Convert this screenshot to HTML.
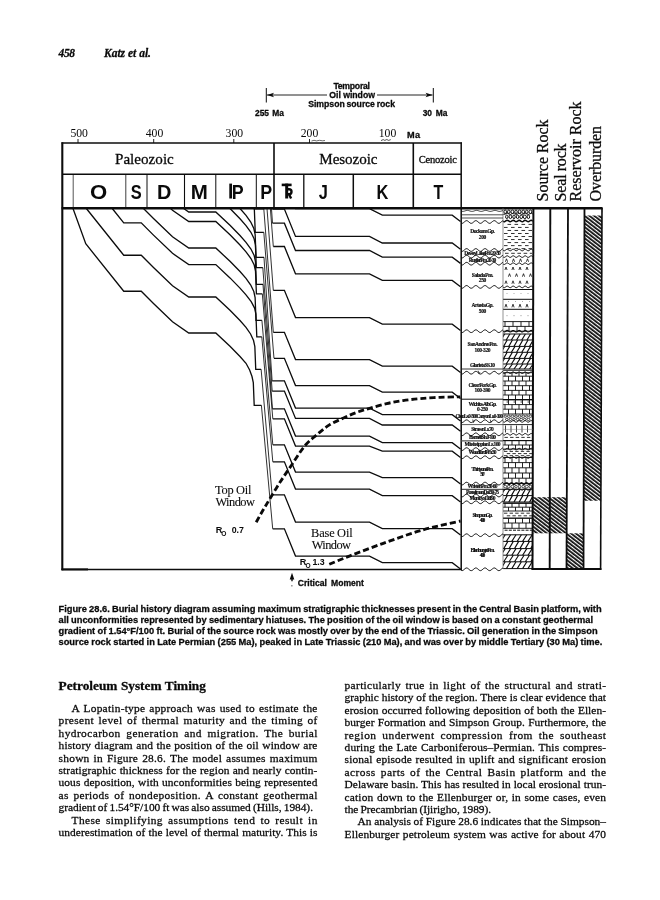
<!DOCTYPE html>
<html lang="en"><head><meta charset="utf-8"><title>Figure 28.6 Burial history diagram</title>
<style>
html,body{margin:0;padding:0;background:#fff;}
body{width:660px;height:900px;position:relative;overflow:hidden;font-family:"Liberation Serif",serif;color:#000;}
svg{position:absolute;left:0;top:0;display:block;will-change:transform;}
svg text{font-family:"Liberation Serif",serif;fill:#0a0a0a;white-space:pre;stroke:#0a0a0a;stroke-width:0.28px;stroke-linejoin:round;}
svg text.s{font-family:"Liberation Sans",sans-serif;}
.ln path,.ln line,.ln polyline,.ln ellipse{fill:none;stroke:#0c0c0c;stroke-width:1.32;}
</style></head>
<body>
<svg width="660" height="900" viewBox="0 0 660 900">
<defs>
<pattern id="hat" width="2.95" height="10" patternUnits="userSpaceOnUse" patternTransform="rotate(-52.3)">
<rect x="0" y="0" width="1.75" height="10" fill="#0a0a0a"/></pattern>
<clipPath id="cpB"><rect x="62" y="207" width="399.2" height="363"/></clipPath>
<clipPath id="cpL"><rect x="503.2" y="208" width="29.6" height="362"/></clipPath>
</defs>
<g class="ln">
<line x1="62.3" y1="142.3" x2="62.3" y2="570.3" style="stroke-width:2.1"/>
<line x1="61.6" y1="143" x2="462" y2="143" style="stroke-width:1.4"/>
<line x1="63" y1="174.3" x2="461" y2="174.3" style="stroke-width:1.4"/>
<line x1="61.6" y1="208.3" x2="602.6" y2="208.3" style="stroke-width:2.4"/>
<line x1="61.6" y1="569.5" x2="461.5" y2="569.5" style="stroke-width:1.35"/>
<line x1="61.6" y1="569.4" x2="88" y2="569.4" style="stroke-width:2"/>
<line x1="461.2" y1="142.5" x2="461.2" y2="570" style="stroke-width:1.5"/>
<line x1="274" y1="143" x2="274" y2="208" style="stroke-width:1.6"/>
<line x1="413.3" y1="143" x2="413.3" y2="208" style="stroke-width:1.6"/>
<line x1="73.2" y1="174.3" x2="73.2" y2="208" style="stroke-width:0.7"/>
<line x1="125.8" y1="174.3" x2="125.8" y2="208" style="stroke-width:0.8"/>
<line x1="147" y1="174.3" x2="147" y2="208" style="stroke-width:1.0"/>
<line x1="184.5" y1="174.3" x2="184.5" y2="208" style="stroke-width:1.1"/>
<line x1="215.8" y1="174.3" x2="215.8" y2="208" style="stroke-width:1.0"/>
<line x1="256.3" y1="174.3" x2="256.3" y2="208" style="stroke-width:1.0"/>
<line x1="303.8" y1="174.3" x2="303.8" y2="208" style="stroke-width:1.3"/>
<line x1="353.3" y1="174.3" x2="353.3" y2="208" style="stroke-width:1.5"/>
<line x1="78" y1="139" x2="78" y2="143" style="stroke-width:0.9"/>
<line x1="153.7" y1="139" x2="153.7" y2="143" style="stroke-width:0.9"/>
<line x1="233.8" y1="139" x2="233.8" y2="143" style="stroke-width:0.9"/>
<line x1="309.5" y1="139" x2="309.5" y2="143" style="stroke-width:0.9"/>
<path d="M381 140.6 l2.2 -1 l1.6 .8 l2 -.9 l1.8 .9 l2.2 -.8" style="stroke-width:0.7"/>
<path d="M311.5 141 l2.5 -.7 l2.5 .6 l3 -.6 l3 .5 l2.5 -.3" style="stroke-width:0.6"/>
</g>
<rect x="229.3" y="183.6" width="2.7" height="14.9" fill="#0a0a0a"/>
<rect x="281.7" y="183.6" width="9.9" height="2.6" fill="#0a0a0a"/>
<rect x="285.2" y="183.6" width="3.0" height="14.9" fill="#0a0a0a"/>
<path d="M287.5 189.2 h1.5 a2.5 2.5 0 0 1 0 5 h-1.5 M289 194.2 l2.1 4.3" fill="none" stroke="#0a0a0a" stroke-width="2.4"/>
<g class="ln">
<line x1="266.3" y1="88" x2="266.3" y2="102.5" style="stroke-width:1"/>
<line x1="433.3" y1="88" x2="433.3" y2="102.5" style="stroke-width:1"/>
<line x1="267" y1="95" x2="327" y2="95" style="stroke-width:0.9"/>
<line x1="377" y1="95" x2="432.5" y2="95" style="stroke-width:0.9"/>
</g>
<path d="M267 95 l7 -2.2 l-1.6 2.2 l1.6 2.2z" fill="#0a0a0a"/>
<path d="M432.6 95 l-7 -2.2 l1.6 2.2 l-1.6 2.2z" fill="#0a0a0a"/>
<g class="ln" clip-path="url(#cpB)">
<path d="M73.00 208.50 L85.75 243.75 L123.75 291.25 L141.25 291.25 L153.75 303.75 L172.50 321.75 L188.75 333.00 L215.80 333.00 L230.00 346.30 L240.00 356.50 L246.00 363.30 L249.64 370.00 L252.00 376.50 L253.30 382.50 L254.20 405.30 L261.40 405.30 M272.70 528.80 L284.40 528.80 L295.50 556.10 L369.50 556.10 L382.30 562.70 L452.20 562.70 L460.50 569.00"/>
<path d="M261.40 405.30 L272.70 528.80" style="stroke-width:0.85"/>
<path d="M86.35 208.50 L123.75 255.25 L141.25 255.25 L153.75 267.75 L172.50 285.75 L188.75 297.00 L215.80 297.00 L230.00 310.30 L240.00 320.50 L246.00 327.30 L250.57 334.00 L253.54 340.50 L254.84 346.50 L255.74 369.30 L261.11 369.30 M272.10 494.80 L284.40 494.80 L295.50 522.10 L369.50 522.10 L382.30 528.70 L452.20 528.70 L460.50 535.00"/>
<path d="M261.11 369.30 L272.10 494.80" style="stroke-width:0.85"/>
<path d="M112.27 208.50 L123.75 222.85 L141.25 222.85 L153.75 235.35 L172.50 253.35 L188.75 264.60 L215.80 264.60 L230.00 277.90 L240.00 288.10 L246.00 294.90 L251.20 301.60 L254.60 308.10 L255.90 314.10 L256.80 336.90 L261.80 336.90 M272.80 461.80 L284.40 461.80 L295.50 489.10 L369.50 489.10 L382.30 495.70 L452.20 495.70 L460.50 502.00"/>
<path d="M261.80 336.90 L272.80 461.80" style="stroke-width:0.85"/>
<path d="M143.50 208.50 L153.75 218.75 L172.50 236.75 L188.75 248.00 L215.80 248.00 L230.00 261.30 L240.00 271.50 L246.00 278.30 L250.73 285.00 L253.81 291.50 L255.11 297.50 L256.01 320.30 L261.90 320.30 M272.80 444.80 L284.40 444.80 L295.50 472.10 L369.50 472.10 L382.30 477.70 L452.20 477.70 L460.50 484.00"/>
<path d="M261.90 320.30 L272.80 444.80" style="stroke-width:0.85"/>
<path d="M170.68 208.50 L172.50 210.25 L188.75 221.50 L215.80 221.50 L230.00 234.80 L240.00 245.00 L246.00 251.80 L250.96 258.50 L254.20 265.00 L255.50 271.00 L256.40 293.80 L262.31 293.80 M272.80 418.80 L284.40 418.80 L295.50 446.10 L369.50 446.10 L382.30 451.20 L452.20 451.20 L460.50 457.50"/>
<path d="M262.31 293.80 L272.80 418.80" style="stroke-width:0.85"/>
<path d="M183.69 208.50 L188.75 212.00 L215.80 212.00 L230.00 225.30 L240.00 235.50 L246.00 242.30 L250.94 249.00 L254.17 255.50 L255.47 261.50 L256.37 284.30 L262.98 284.30 M272.48 408.80 L284.40 408.80 L295.50 436.10 L369.50 436.10 L382.30 442.70 L452.20 442.70 L460.50 449.00"/>
<path d="M262.98 284.30 L272.48 408.80" style="stroke-width:0.85"/>
<path d="M229.89 208.50 L230.00 208.60 L240.00 218.80 L246.00 225.60 L250.91 232.30 L254.11 238.80 L255.41 244.80 L256.31 267.60 L262.80 267.60 M272.19 391.10 L284.40 391.10 L295.50 418.40 L369.50 418.40 L382.30 425.00 L452.20 425.00 L460.50 431.30"/>
<path d="M262.80 267.60 L272.19 391.10" style="stroke-width:0.85"/>
<path d="M240.00 208.50 L246.00 215.30 L250.75 222.00 L253.85 228.50 L255.15 234.50 L256.05 257.30 L263.97 257.30 M272.12 380.80 L284.40 380.80 L295.50 408.10 L369.50 408.10 L382.30 414.70 L452.20 414.70 L460.50 421.00"/>
<path d="M263.97 257.30 L272.12 380.80" style="stroke-width:0.85"/>
<path d="M254.13 208.50 L254.35 209.50 L255.25 232.30 L263.80 232.30 M273.98 358.30 L284.40 358.30 L295.50 385.60 L369.50 385.60 L382.30 392.20 L452.20 392.20 L460.50 398.50"/>
<path d="M263.80 232.30 L273.98 358.30" style="stroke-width:0.85"/>
<path d="M254.49 208.50 L254.50 208.80 L263.80 208.80 M273.33 332.30 L284.40 332.30 L295.50 359.60 L369.50 359.60 L382.30 366.20 L452.20 366.20 L460.50 372.50"/>
<path d="M263.80 208.80 L273.33 332.30" style="stroke-width:0.85"/>
<path d="M267.01 208.50 M273.30 290.30 L284.40 290.30 L295.50 317.60 L369.50 317.60 L382.30 324.20 L452.20 324.20 L460.50 330.50"/>
<path d="M267.01 208.50 L273.30 290.30" style="stroke-width:0.85"/>
<path d="M270.38 208.50 M273.30 246.50 L284.40 246.50 L295.50 273.80 L369.50 273.80 L382.30 280.40 L452.20 280.40 L460.50 286.70"/>
<path d="M270.38 208.50 L273.30 246.50" style="stroke-width:0.85"/>
<path d="M271.47 208.50 M272.51 223.20 L284.40 223.20 L295.50 250.50 L369.50 250.50 L382.30 257.10 L452.20 257.10 L460.50 263.40"/>
<path d="M271.47 208.50 L272.51 223.20" style="stroke-width:0.85"/>
<path d="M272.46 208.50 M272.50 209.10 L284.40 209.10 L295.50 236.40 L369.50 236.40 L382.30 243.00 L452.20 243.00 L460.50 249.30"/>
<path d="M272.46 208.50 L272.50 209.10" style="stroke-width:0.85"/>
<path d="M295.46 208.50 L295.50 208.60 L369.50 208.60 L382.30 215.20 L452.20 215.20 L460.50 221.50"/>
</g>
<path d="M256.20 522.20 C257.25 520.33 260.28 514.80 262.50 511.00 C264.72 507.20 266.58 504.18 269.50 499.40 C272.42 494.62 276.33 488.00 280.00 482.30 C283.67 476.60 287.33 471.32 291.50 465.20 C295.67 459.08 300.52 450.90 305.00 445.60 C309.48 440.30 314.33 436.85 318.40 433.40 C322.47 429.95 325.30 427.43 329.40 424.90 C333.50 422.37 338.57 420.25 343.00 418.20 C347.43 416.15 351.57 414.25 356.00 412.60 C360.43 410.95 364.48 409.80 369.60 408.30 C374.72 406.80 381.13 404.88 386.70 403.60 C392.27 402.32 397.45 401.43 403.00 400.60 C408.55 399.77 413.83 399.15 420.00 398.60 C426.17 398.05 433.28 397.60 440.00 397.30 C446.72 397.00 456.92 396.88 460.30 396.80" fill="none" stroke="#0a0a0a" stroke-width="2.85" stroke-dasharray="6.1 3"/>
<path d="M329.30 564.30 C332.75 562.88 341.00 559.30 350.00 555.80 C359.00 552.30 372.18 547.32 383.30 543.30 C394.42 539.28 407.25 534.65 416.70 531.70 C426.15 528.75 432.70 527.38 440.00 525.60 C447.30 523.82 457.08 521.77 460.50 521.00" fill="none" stroke="#0a0a0a" stroke-width="2.85" stroke-dasharray="6.1 3"/>
<path d="M292 572.7 l2.3 6.7 h-1.6 v1.8 h-1.4 v-1.8 h-1.6z" fill="#0a0a0a"/>
<rect x="291.4" y="585.2" width="1" height="1.2" fill="#333"/>
<rect x="532.6" y="497.2" width="34.2" height="36.1" fill="url(#hat)"/>
<rect x="566.5" y="533.3" width="17.2" height="36" fill="url(#hat)"/>
<path d="M584.5 215.6 H602 L601 500.7 H583.7z" fill="url(#hat)"/>
<g class="ln">
<line x1="533.4" y1="208" x2="532.5" y2="570" style="stroke-width:2.0"/>
<line x1="550.3" y1="208" x2="549.7" y2="570" style="stroke-width:1.9"/>
<line x1="568.0" y1="208" x2="566.5" y2="570" style="stroke-width:1.8"/>
<line x1="584.5" y1="208" x2="583.5" y2="570" style="stroke-width:1.8"/>
<line x1="602.0" y1="208" x2="600.6" y2="570" style="stroke-width:1.6"/>
<line x1="531.7" y1="569" x2="601.4" y2="569" style="stroke-width:2.1"/>
</g>
<g class="ln">
<line x1="503" y1="208" x2="503" y2="569" style="stroke-width:0.7;stroke:#666"/>
<path d="M461.2 223.14 L462.0 223.35 L462.8 223.17 L463.6 222.64 L464.4 221.93 L465.2 221.23 L466.0 220.77 L466.8 220.66 L467.6 220.95 L468.4 221.55 L469.2 222.28 L470.0 222.93 L470.8 223.30 L471.6 223.30 L472.5 222.91 L473.3 222.25 L474.1 221.53 L474.9 220.94 L475.7 220.66 L476.5 220.78 L477.3 221.25 L478.1 221.95 L478.9 222.66 L479.7 223.18 L480.5 223.35 L481.3 223.12 L482.1 222.57 L482.9 221.85 L483.7 221.17 L484.5 220.74 L485.3 220.67 L486.1 221.00 L486.9 221.62 L487.7 222.36 L488.5 222.98 L489.3 223.32 L490.1 223.27 L490.9 222.85 L491.7 222.17 L492.6 221.45 L493.4 220.89 L494.2 220.65 L495.0 220.81 L495.8 221.32 L496.6 222.03 L497.4 222.73 L498.2 223.22 L499.0 223.34 L499.8 223.08 L500.6 222.49 L501.4 221.76 L502.2 221.11 L503.0 220.71" style="stroke-width:1.0"/>
<path d="M461.2 251.14 L462.0 251.35 L462.8 251.17 L463.6 250.64 L464.4 249.93 L465.2 249.23 L466.0 248.77 L466.8 248.66 L467.6 248.95 L468.4 249.55 L469.2 250.28 L470.0 250.93 L470.8 251.30 L471.6 251.30 L472.5 250.91 L473.3 250.25 L474.1 249.53 L474.9 248.94 L475.7 248.66 L476.5 248.78 L477.3 249.25 L478.1 249.95 L478.9 250.66 L479.7 251.18 L480.5 251.35 L481.3 251.12 L482.1 250.57 L482.9 249.85 L483.7 249.17 L484.5 248.74 L485.3 248.67 L486.1 249.00 L486.9 249.62 L487.7 250.36 L488.5 250.98 L489.3 251.32 L490.1 251.27 L490.9 250.85 L491.7 250.17 L492.6 249.45 L493.4 248.89 L494.2 248.65 L495.0 248.81 L495.8 249.32 L496.6 250.03 L497.4 250.73 L498.2 251.22 L499.0 251.34 L499.8 251.08 L500.6 250.49 L501.4 249.76 L502.2 249.11 L503.0 248.71" style="stroke-width:1.0"/>
<path d="M461.2 257.74 L462.0 257.95 L462.8 257.77 L463.6 257.24 L464.4 256.53 L465.2 255.83 L466.0 255.37 L466.8 255.26 L467.6 255.55 L468.4 256.15 L469.2 256.88 L470.0 257.53 L470.8 257.90 L471.6 257.90 L472.5 257.51 L473.3 256.85 L474.1 256.13 L474.9 255.54 L475.7 255.26 L476.5 255.38 L477.3 255.85 L478.1 256.55 L478.9 257.26 L479.7 257.78 L480.5 257.95 L481.3 257.72 L482.1 257.17 L482.9 256.45 L483.7 255.77 L484.5 255.34 L485.3 255.27 L486.1 255.60 L486.9 256.22 L487.7 256.96 L488.5 257.58 L489.3 257.92 L490.1 257.87 L490.9 257.45 L491.7 256.77 L492.6 256.05 L493.4 255.49 L494.2 255.25 L495.0 255.41 L495.8 255.92 L496.6 256.63 L497.4 257.33 L498.2 257.82 L499.0 257.94 L499.8 257.68 L500.6 257.09 L501.4 256.36 L502.2 255.71 L503.0 255.31" style="stroke-width:1.0"/>
<path d="M461.2 264.84 L462.0 265.05 L462.8 264.87 L463.6 264.34 L464.4 263.63 L465.2 262.93 L466.0 262.47 L466.8 262.36 L467.6 262.65 L468.4 263.25 L469.2 263.98 L470.0 264.63 L470.8 265.00 L471.6 265.00 L472.5 264.61 L473.3 263.95 L474.1 263.23 L474.9 262.64 L475.7 262.36 L476.5 262.48 L477.3 262.95 L478.1 263.65 L478.9 264.36 L479.7 264.88 L480.5 265.05 L481.3 264.82 L482.1 264.27 L482.9 263.55 L483.7 262.87 L484.5 262.44 L485.3 262.37 L486.1 262.70 L486.9 263.32 L487.7 264.06 L488.5 264.68 L489.3 265.02 L490.1 264.97 L490.9 264.55 L491.7 263.87 L492.6 263.15 L493.4 262.59 L494.2 262.35 L495.0 262.51 L495.8 263.02 L496.6 263.73 L497.4 264.43 L498.2 264.92 L499.0 265.04 L499.8 264.78 L500.6 264.19 L501.4 263.46 L502.2 262.81 L503.0 262.41" style="stroke-width:1.0"/>
<path d="M461.2 288.04 L462.0 288.25 L462.8 288.07 L463.6 287.54 L464.4 286.83 L465.2 286.13 L466.0 285.67 L466.8 285.56 L467.6 285.85 L468.4 286.45 L469.2 287.18 L470.0 287.83 L470.8 288.20 L471.6 288.20 L472.5 287.81 L473.3 287.15 L474.1 286.43 L474.9 285.84 L475.7 285.56 L476.5 285.68 L477.3 286.15 L478.1 286.85 L478.9 287.56 L479.7 288.08 L480.5 288.25 L481.3 288.02 L482.1 287.47 L482.9 286.75 L483.7 286.07 L484.5 285.64 L485.3 285.57 L486.1 285.90 L486.9 286.52 L487.7 287.26 L488.5 287.88 L489.3 288.22 L490.1 288.17 L490.9 287.75 L491.7 287.07 L492.6 286.35 L493.4 285.79 L494.2 285.55 L495.0 285.71 L495.8 286.22 L496.6 286.93 L497.4 287.63 L498.2 288.12 L499.0 288.24 L499.8 287.98 L500.6 287.39 L501.4 286.66 L502.2 286.01 L503.0 285.61" style="stroke-width:1.0"/>
<path d="M461.2 332.34 L462.0 332.55 L462.8 332.37 L463.6 331.84 L464.4 331.13 L465.2 330.43 L466.0 329.97 L466.8 329.86 L467.6 330.15 L468.4 330.75 L469.2 331.48 L470.0 332.13 L470.8 332.50 L471.6 332.50 L472.5 332.11 L473.3 331.45 L474.1 330.73 L474.9 330.14 L475.7 329.86 L476.5 329.98 L477.3 330.45 L478.1 331.15 L478.9 331.86 L479.7 332.38 L480.5 332.55 L481.3 332.32 L482.1 331.77 L482.9 331.05 L483.7 330.37 L484.5 329.94 L485.3 329.87 L486.1 330.20 L486.9 330.82 L487.7 331.56 L488.5 332.18 L489.3 332.52 L490.1 332.47 L490.9 332.05 L491.7 331.37 L492.6 330.65 L493.4 330.09 L494.2 329.85 L495.0 330.01 L495.8 330.52 L496.6 331.23 L497.4 331.93 L498.2 332.42 L499.0 332.54 L499.8 332.28 L500.6 331.69 L501.4 330.96 L502.2 330.31 L503.0 329.91" style="stroke-width:1.0"/>
<path d="M461.2 373.84 L462.0 374.05 L462.8 373.87 L463.6 373.34 L464.4 372.63 L465.2 371.93 L466.0 371.47 L466.8 371.36 L467.6 371.65 L468.4 372.25 L469.2 372.98 L470.0 373.63 L470.8 374.00 L471.6 374.00 L472.5 373.61 L473.3 372.95 L474.1 372.23 L474.9 371.64 L475.7 371.36 L476.5 371.48 L477.3 371.95 L478.1 372.65 L478.9 373.36 L479.7 373.88 L480.5 374.05 L481.3 373.82 L482.1 373.27 L482.9 372.55 L483.7 371.87 L484.5 371.44 L485.3 371.37 L486.1 371.70 L486.9 372.32 L487.7 373.06 L488.5 373.68 L489.3 374.02 L490.1 373.97 L490.9 373.55 L491.7 372.87 L492.6 372.15 L493.4 371.59 L494.2 371.35 L495.0 371.51 L495.8 372.02 L496.6 372.73 L497.4 373.43 L498.2 373.92 L499.0 374.04 L499.8 373.78 L500.6 373.19 L501.4 372.46 L502.2 371.81 L503.0 371.41" style="stroke-width:1.0"/>
<path d="M461.2 422.34 L462.0 422.55 L462.8 422.37 L463.6 421.84 L464.4 421.13 L465.2 420.43 L466.0 419.97 L466.8 419.86 L467.6 420.15 L468.4 420.75 L469.2 421.48 L470.0 422.13 L470.8 422.50 L471.6 422.50 L472.5 422.11 L473.3 421.45 L474.1 420.73 L474.9 420.14 L475.7 419.86 L476.5 419.98 L477.3 420.45 L478.1 421.15 L478.9 421.86 L479.7 422.38 L480.5 422.55 L481.3 422.32 L482.1 421.77 L482.9 421.05 L483.7 420.37 L484.5 419.94 L485.3 419.87 L486.1 420.20 L486.9 420.82 L487.7 421.56 L488.5 422.18 L489.3 422.52 L490.1 422.47 L490.9 422.05 L491.7 421.37 L492.6 420.65 L493.4 420.09 L494.2 419.85 L495.0 420.01 L495.8 420.52 L496.6 421.23 L497.4 421.93 L498.2 422.42 L499.0 422.54 L499.8 422.28 L500.6 421.69 L501.4 420.96 L502.2 420.31 L503.0 419.91" style="stroke-width:1.0"/>
<path d="M461.2 435.44 L462.0 435.65 L462.8 435.47 L463.6 434.94 L464.4 434.23 L465.2 433.53 L466.0 433.07 L466.8 432.96 L467.6 433.25 L468.4 433.85 L469.2 434.58 L470.0 435.23 L470.8 435.60 L471.6 435.60 L472.5 435.21 L473.3 434.55 L474.1 433.83 L474.9 433.24 L475.7 432.96 L476.5 433.08 L477.3 433.55 L478.1 434.25 L478.9 434.96 L479.7 435.48 L480.5 435.65 L481.3 435.42 L482.1 434.87 L482.9 434.15 L483.7 433.47 L484.5 433.04 L485.3 432.97 L486.1 433.30 L486.9 433.92 L487.7 434.66 L488.5 435.28 L489.3 435.62 L490.1 435.57 L490.9 435.15 L491.7 434.47 L492.6 433.75 L493.4 433.19 L494.2 432.95 L495.0 433.11 L495.8 433.62 L496.6 434.33 L497.4 435.03 L498.2 435.52 L499.0 435.64 L499.8 435.38 L500.6 434.79 L501.4 434.06 L502.2 433.41 L503.0 433.01" style="stroke-width:1.0"/>
<path d="M461.2 450.24 L462.0 450.45 L462.8 450.27 L463.6 449.74 L464.4 449.03 L465.2 448.33 L466.0 447.87 L466.8 447.76 L467.6 448.05 L468.4 448.65 L469.2 449.38 L470.0 450.03 L470.8 450.40 L471.6 450.40 L472.5 450.01 L473.3 449.35 L474.1 448.63 L474.9 448.04 L475.7 447.76 L476.5 447.88 L477.3 448.35 L478.1 449.05 L478.9 449.76 L479.7 450.28 L480.5 450.45 L481.3 450.22 L482.1 449.67 L482.9 448.95 L483.7 448.27 L484.5 447.84 L485.3 447.77 L486.1 448.10 L486.9 448.72 L487.7 449.46 L488.5 450.08 L489.3 450.42 L490.1 450.37 L490.9 449.95 L491.7 449.27 L492.6 448.55 L493.4 447.99 L494.2 447.75 L495.0 447.91 L495.8 448.42 L496.6 449.13 L497.4 449.83 L498.2 450.32 L499.0 450.44 L499.8 450.18 L500.6 449.59 L501.4 448.86 L502.2 448.21 L503.0 447.81" style="stroke-width:1.0"/>
<path d="M461.2 458.44 L462.0 458.65 L462.8 458.47 L463.6 457.94 L464.4 457.23 L465.2 456.53 L466.0 456.07 L466.8 455.96 L467.6 456.25 L468.4 456.85 L469.2 457.58 L470.0 458.23 L470.8 458.60 L471.6 458.60 L472.5 458.21 L473.3 457.55 L474.1 456.83 L474.9 456.24 L475.7 455.96 L476.5 456.08 L477.3 456.55 L478.1 457.25 L478.9 457.96 L479.7 458.48 L480.5 458.65 L481.3 458.42 L482.1 457.87 L482.9 457.15 L483.7 456.47 L484.5 456.04 L485.3 455.97 L486.1 456.30 L486.9 456.92 L487.7 457.66 L488.5 458.28 L489.3 458.62 L490.1 458.57 L490.9 458.15 L491.7 457.47 L492.6 456.75 L493.4 456.19 L494.2 455.95 L495.0 456.11 L495.8 456.62 L496.6 457.33 L497.4 458.03 L498.2 458.52 L499.0 458.64 L499.8 458.38 L500.6 457.79 L501.4 457.06 L502.2 456.41 L503.0 456.01" style="stroke-width:1.0"/>
<path d="M461.2 484.74 L462.0 484.95 L462.8 484.77 L463.6 484.24 L464.4 483.53 L465.2 482.83 L466.0 482.37 L466.8 482.26 L467.6 482.55 L468.4 483.15 L469.2 483.88 L470.0 484.53 L470.8 484.90 L471.6 484.90 L472.5 484.51 L473.3 483.85 L474.1 483.13 L474.9 482.54 L475.7 482.26 L476.5 482.38 L477.3 482.85 L478.1 483.55 L478.9 484.26 L479.7 484.78 L480.5 484.95 L481.3 484.72 L482.1 484.17 L482.9 483.45 L483.7 482.77 L484.5 482.34 L485.3 482.27 L486.1 482.60 L486.9 483.22 L487.7 483.96 L488.5 484.58 L489.3 484.92 L490.1 484.87 L490.9 484.45 L491.7 483.77 L492.6 483.05 L493.4 482.49 L494.2 482.25 L495.0 482.41 L495.8 482.92 L496.6 483.63 L497.4 484.33 L498.2 484.82 L499.0 484.94 L499.8 484.68 L500.6 484.09 L501.4 483.36 L502.2 482.71 L503.0 482.31" style="stroke-width:1.0"/>
<path d="M461.2 496.64 L462.0 496.85 L462.8 496.67 L463.6 496.14 L464.4 495.43 L465.2 494.73 L466.0 494.27 L466.8 494.16 L467.6 494.45 L468.4 495.05 L469.2 495.78 L470.0 496.43 L470.8 496.80 L471.6 496.80 L472.5 496.41 L473.3 495.75 L474.1 495.03 L474.9 494.44 L475.7 494.16 L476.5 494.28 L477.3 494.75 L478.1 495.45 L478.9 496.16 L479.7 496.68 L480.5 496.85 L481.3 496.62 L482.1 496.07 L482.9 495.35 L483.7 494.67 L484.5 494.24 L485.3 494.17 L486.1 494.50 L486.9 495.12 L487.7 495.86 L488.5 496.48 L489.3 496.82 L490.1 496.77 L490.9 496.35 L491.7 495.67 L492.6 494.95 L493.4 494.39 L494.2 494.15 L495.0 494.31 L495.8 494.82 L496.6 495.53 L497.4 496.23 L498.2 496.72 L499.0 496.84 L499.8 496.58 L500.6 495.99 L501.4 495.26 L502.2 494.61 L503.0 494.21" style="stroke-width:1.0"/>
<path d="M461.2 503.44 L462.0 503.65 L462.8 503.47 L463.6 502.94 L464.4 502.23 L465.2 501.53 L466.0 501.07 L466.8 500.96 L467.6 501.25 L468.4 501.85 L469.2 502.58 L470.0 503.23 L470.8 503.60 L471.6 503.60 L472.5 503.21 L473.3 502.55 L474.1 501.83 L474.9 501.24 L475.7 500.96 L476.5 501.08 L477.3 501.55 L478.1 502.25 L478.9 502.96 L479.7 503.48 L480.5 503.65 L481.3 503.42 L482.1 502.87 L482.9 502.15 L483.7 501.47 L484.5 501.04 L485.3 500.97 L486.1 501.30 L486.9 501.92 L487.7 502.66 L488.5 503.28 L489.3 503.62 L490.1 503.57 L490.9 503.15 L491.7 502.47 L492.6 501.75 L493.4 501.19 L494.2 500.95 L495.0 501.11 L495.8 501.62 L496.6 502.33 L497.4 503.03 L498.2 503.52 L499.0 503.64 L499.8 503.38 L500.6 502.79 L501.4 502.06 L502.2 501.41 L503.0 501.01" style="stroke-width:1.0"/>
<path d="M461.2 536.34 L462.0 536.55 L462.8 536.37 L463.6 535.84 L464.4 535.13 L465.2 534.43 L466.0 533.97 L466.8 533.86 L467.6 534.15 L468.4 534.75 L469.2 535.48 L470.0 536.13 L470.8 536.50 L471.6 536.50 L472.5 536.11 L473.3 535.45 L474.1 534.73 L474.9 534.14 L475.7 533.86 L476.5 533.98 L477.3 534.45 L478.1 535.15 L478.9 535.86 L479.7 536.38 L480.5 536.55 L481.3 536.32 L482.1 535.77 L482.9 535.05 L483.7 534.37 L484.5 533.94 L485.3 533.87 L486.1 534.20 L486.9 534.82 L487.7 535.56 L488.5 536.18 L489.3 536.52 L490.1 536.47 L490.9 536.05 L491.7 535.37 L492.6 534.65 L493.4 534.09 L494.2 533.85 L495.0 534.01 L495.8 534.52 L496.6 535.23 L497.4 535.93 L498.2 536.42 L499.0 536.54 L499.8 536.28 L500.6 535.69 L501.4 534.96 L502.2 534.31 L503.0 533.91" style="stroke-width:1.0"/>
<path d="M461.2 570.44 L462.0 570.65 L462.8 570.47 L463.6 569.94 L464.4 569.23 L465.2 568.53 L466.0 568.07 L466.8 567.96 L467.6 568.25 L468.4 568.85 L469.2 569.58 L470.0 570.23 L470.8 570.60 L471.6 570.60 L472.5 570.21 L473.3 569.55 L474.1 568.83 L474.9 568.24 L475.7 567.96 L476.5 568.08 L477.3 568.55 L478.1 569.25 L478.9 569.96 L479.7 570.48 L480.5 570.65 L481.3 570.42 L482.1 569.87 L482.9 569.15 L483.7 568.47 L484.5 568.04 L485.3 567.97 L486.1 568.30 L486.9 568.92 L487.7 569.66 L488.5 570.28 L489.3 570.62 L490.1 570.57 L490.9 570.15 L491.7 569.47 L492.6 568.75 L493.4 568.19 L494.2 567.95 L495.0 568.11 L495.8 568.62 L496.6 569.33 L497.4 570.03 L498.2 570.52 L499.0 570.64 L499.8 570.38 L500.6 569.79 L501.4 569.06 L502.2 568.41 L503.0 568.01" style="stroke-width:1.0"/>
<path d="M461.2 211.14 L462.0 211.33 L462.8 211.40 L463.6 211.32 L464.4 211.12 L465.2 210.85 L466.0 210.60 L466.8 210.43 L467.6 210.41 L468.4 210.53 L469.2 210.76 L470.0 211.03 L470.8 211.26 L471.6 211.39 L472.5 211.37 L473.3 211.22 L474.1 210.97 L474.9 210.70 L475.7 210.49 L476.5 210.40 L477.3 210.46 L478.1 210.64 L478.9 210.91 L479.7 211.17 L480.5 211.35 L481.3 211.40 L482.1 211.30 L482.9 211.09 L483.7 210.82 L484.5 210.57 L485.3 210.42 L486.1 210.41 L486.9 210.55 L487.7 210.78 L488.5 211.06 L489.3 211.28 L490.1 211.39 L490.9 211.36 L491.7 211.19 L492.6 210.94 L493.4 210.67 L494.2 210.47 L495.0 210.40 L495.8 210.47 L496.6 210.67 L497.4 210.94 L498.2 211.19 L499.0 211.36 L499.8 211.39 L500.6 211.28 L501.4 211.06 L502.2 210.79 L503.0 210.55" style="stroke-width:0.8"/>
<line x1="461.2" y1="214.8" x2="503.0" y2="214.8" style="stroke-width:0.8;stroke:#222"/>
<line x1="461.2" y1="218" x2="503.0" y2="218" style="stroke-width:0.8;stroke:#222"/>
<line x1="461.2" y1="369" x2="503.0" y2="369" style="stroke-width:0.9;stroke:#222"/>
<line x1="461.2" y1="399.2" x2="503.0" y2="399.2" style="stroke-width:1.0;stroke:#111"/>
<line x1="461.2" y1="424.6" x2="503.0" y2="424.6" style="stroke-width:0.8;stroke:#333"/>
<line x1="461.2" y1="440.8" x2="503.0" y2="440.8" style="stroke-width:1.2;stroke:#555"/>
<line x1="461.2" y1="489.3" x2="503.0" y2="489.3" style="stroke-width:0.9;stroke:#111"/>
<path d="M479 373.7 l-.8 -3 m.8 3 l1 -1.6" style="stroke-width:0.7"/>
<path d="M473.5 422.5 l-.8 -3 m.8 3 l1 -1.6" style="stroke-width:0.7"/>
<path d="M491 422.5 l-.8 -3 m.8 3 l1 -1.6" style="stroke-width:0.7"/>
</g>
<g class="ln" clip-path="url(#cpL)">
<ellipse cx="505.2" cy="211.80" rx="1.33" ry="1.80" style="stroke-width:1.0"/>
<ellipse cx="508.8" cy="211.80" rx="1.26" ry="1.80" style="stroke-width:1.0"/>
<ellipse cx="512.4" cy="211.80" rx="1.46" ry="1.80" style="stroke-width:1.0"/>
<ellipse cx="516.0" cy="211.80" rx="1.23" ry="1.80" style="stroke-width:1.0"/>
<ellipse cx="519.6" cy="211.80" rx="1.41" ry="1.80" style="stroke-width:1.0"/>
<ellipse cx="523.2" cy="211.80" rx="1.35" ry="1.80" style="stroke-width:1.0"/>
<ellipse cx="526.8" cy="211.80" rx="1.22" ry="1.80" style="stroke-width:1.0"/>
<ellipse cx="530.4" cy="211.80" rx="1.40" ry="1.80" style="stroke-width:1.0"/>
<ellipse cx="506.8" cy="216.80" rx="1.21" ry="1.80" style="stroke-width:1.0"/>
<ellipse cx="510.4" cy="216.80" rx="1.37" ry="1.80" style="stroke-width:1.0"/>
<ellipse cx="514.0" cy="216.80" rx="1.23" ry="1.80" style="stroke-width:1.0"/>
<ellipse cx="517.6" cy="216.80" rx="1.24" ry="1.80" style="stroke-width:1.0"/>
<ellipse cx="521.2" cy="216.80" rx="1.37" ry="1.80" style="stroke-width:1.0"/>
<ellipse cx="524.8" cy="216.80" rx="1.53" ry="1.80" style="stroke-width:1.0"/>
<ellipse cx="528.4" cy="216.80" rx="1.25" ry="1.80" style="stroke-width:1.0"/>
<path d="M503.0 214.08 L503.8 214.45 L504.6 214.45 L505.4 214.07 L506.2 213.58 L507.1 213.31 L507.9 213.43 L508.7 213.88 L509.5 214.33 L510.3 214.50 L511.1 214.26 L511.9 213.77 L512.7 213.38 L513.5 213.33 L514.4 213.68 L515.2 214.17 L516.0 214.48 L516.8 214.40 L517.6 213.97 L518.4 213.50 L519.2 213.30 L520.0 213.50 L520.8 213.98 L521.6 214.40 L522.5 214.48 L523.3 214.17 L524.1 213.67 L524.9 213.33 L525.7 213.38 L526.5 213.78 L527.3 214.26 L528.1 214.50 L528.9 214.33 L529.8 213.87 L530.6 213.43 L531.4 213.31 L532.2 213.59 L533.0 214.08" style="stroke-width:0.9"/>
<path d="M503.0 221.21 L503.8 221.64 L504.6 221.64 L505.4 221.20 L506.2 220.63 L507.1 220.31 L507.9 220.46 L508.7 220.97 L509.5 221.51 L510.3 221.70 L511.1 221.41 L511.9 220.85 L512.7 220.39 L513.5 220.34 L514.4 220.74 L515.2 221.32 L516.0 221.68 L516.8 221.58 L517.6 221.09 L518.4 220.54 L519.2 220.30 L520.0 220.54 L520.8 221.09 L521.6 221.58 L522.5 221.68 L523.3 221.31 L524.1 220.74 L524.9 220.34 L525.7 220.39 L526.5 220.85 L527.3 221.42 L528.1 221.70 L528.9 221.50 L529.8 220.97 L530.6 220.45 L531.4 220.31 L532.2 220.63 L533.0 221.21" style="stroke-width:1.5"/>
<path d="M507.5 224.40 h3.6 M514.5 224.40 h3.6 M521.5 224.40 h3.6 M528.5 224.40 h3.5" style="stroke-width:0.85"/>
<path d="M504.0 227.43 h3.6 M511.0 227.43 h3.6 M518.0 227.43 h3.6 M525.0 227.43 h3.6" style="stroke-width:0.85"/>
<path d="M507.5 230.46 h3.6 M514.5 230.46 h3.6 M521.5 230.46 h3.6 M528.5 230.46 h3.5" style="stroke-width:0.85"/>
<path d="M504.0 233.49 h3.6 M511.0 233.49 h3.6 M518.0 233.49 h3.6 M525.0 233.49 h3.6" style="stroke-width:0.85"/>
<path d="M507.5 236.52 h3.6 M514.5 236.52 h3.6 M521.5 236.52 h3.6 M528.5 236.52 h3.5" style="stroke-width:0.85"/>
<path d="M504.0 239.55 h3.6 M511.0 239.55 h3.6 M518.0 239.55 h3.6 M525.0 239.55 h3.6" style="stroke-width:0.85"/>
<path d="M507.5 242.58 h3.6 M514.5 242.58 h3.6 M521.5 242.58 h3.6 M528.5 242.58 h3.5" style="stroke-width:0.85"/>
<path d="M504.0 245.61 h3.6 M511.0 245.61 h3.6 M518.0 245.61 h3.6 M525.0 245.61 h3.6" style="stroke-width:0.85"/>
<path d="M507.5 248.64 h3.6 M514.5 248.64 h3.6 M521.5 248.64 h3.6 M528.5 248.64 h3.5" style="stroke-width:0.85"/>
<path d="M503.0 250.24 L503.8 250.73 L504.6 250.73 L505.4 250.23 L506.2 249.58 L507.1 249.21 L507.9 249.38 L508.7 249.97 L509.5 250.58 L510.3 250.80 L511.1 250.47 L511.9 249.83 L512.7 249.30 L513.5 249.25 L514.4 249.70 L515.2 250.36 L516.0 250.77 L516.8 250.66 L517.6 250.10 L518.4 249.47 L519.2 249.20 L520.0 249.47 L520.8 250.10 L521.6 250.66 L522.5 250.77 L523.3 250.36 L524.1 249.70 L524.9 249.24 L525.7 249.30 L526.5 249.83 L527.3 250.48 L528.1 250.80 L528.9 250.58 L529.8 249.96 L530.6 249.38 L531.4 249.21 L532.2 249.58 L533.0 250.24" style="stroke-width:1.0"/>
<path d="M505.0 253.30 h3.6 M511.2 253.30 h3.6 M517.4 253.30 h3.6 M523.6 253.30 h3.6 M529.8 253.30 h2.2" style="stroke-width:0.85"/>
<path d="M503.0 256.84 L503.8 257.33 L504.6 257.33 L505.4 256.83 L506.2 256.18 L507.1 255.81 L507.9 255.98 L508.7 256.57 L509.5 257.18 L510.3 257.40 L511.1 257.07 L511.9 256.43 L512.7 255.90 L513.5 255.85 L514.4 256.30 L515.2 256.96 L516.0 257.37 L516.8 257.26 L517.6 256.70 L518.4 256.07 L519.2 255.80 L520.0 256.07 L520.8 256.70 L521.6 257.26 L522.5 257.37 L523.3 256.96 L524.1 256.30 L524.9 255.84 L525.7 255.90 L526.5 256.43 L527.3 257.08 L528.1 257.40 L528.9 257.18 L529.8 256.56 L530.6 255.98 L531.4 255.81 L532.2 256.18 L533.0 256.84" style="stroke-width:1.0"/>
<path d="M505.4 261.80 l1.1 -3.0 l1.1 3.0 M512.4 261.80 l1.1 -3.0 l1.1 3.0 M519.4 261.80 l1.1 -3.0 l1.1 3.0 M526.4 261.80 l1.1 -3.0 l1.1 3.0" style="stroke-width:0.8"/>
<path d="M503.0 263.94 L503.8 264.43 L504.6 264.43 L505.4 263.93 L506.2 263.28 L507.1 262.91 L507.9 263.08 L508.7 263.67 L509.5 264.28 L510.3 264.50 L511.1 264.17 L511.9 263.53 L512.7 263.00 L513.5 262.95 L514.4 263.40 L515.2 264.06 L516.0 264.47 L516.8 264.36 L517.6 263.80 L518.4 263.17 L519.2 262.90 L520.0 263.17 L520.8 263.80 L521.6 264.36 L522.5 264.47 L523.3 264.06 L524.1 263.40 L524.9 262.94 L525.7 263.00 L526.5 263.53 L527.3 264.18 L528.1 264.50 L528.9 264.28 L529.8 263.66 L530.6 263.08 L531.4 262.91 L532.2 263.28 L533.0 263.94" style="stroke-width:1.0"/>
<path d="M504.9 270.00 l1.1 -3.0 l1.1 3.0 M511.9 270.00 l1.1 -3.0 l1.1 3.0 M518.9 270.00 l1.1 -3.0 l1.1 3.0 M525.9 270.00 l1.1 -3.0 l1.1 3.0" style="stroke-width:0.8"/>
<path d="M508.4 276.70 l1.1 -3.0 l1.1 3.0 M515.4 276.70 l1.1 -3.0 l1.1 3.0 M522.4 276.70 l1.1 -3.0 l1.1 3.0 M529.4 276.70 l1.1 -3.0 l1.1 3.0" style="stroke-width:0.8"/>
<path d="M504.9 283.80 l1.1 -3.0 l1.1 3.0 M511.9 283.80 l1.1 -3.0 l1.1 3.0 M518.9 283.80 l1.1 -3.0 l1.1 3.0 M525.9 283.80 l1.1 -3.0 l1.1 3.0" style="stroke-width:0.8"/>
<path d="M503.0 287.14 L503.8 287.63 L504.6 287.63 L505.4 287.13 L506.2 286.48 L507.1 286.11 L507.9 286.28 L508.7 286.87 L509.5 287.48 L510.3 287.70 L511.1 287.37 L511.9 286.73 L512.7 286.20 L513.5 286.15 L514.4 286.60 L515.2 287.26 L516.0 287.67 L516.8 287.56 L517.6 287.00 L518.4 286.37 L519.2 286.10 L520.0 286.37 L520.8 287.00 L521.6 287.56 L522.5 287.67 L523.3 287.26 L524.1 286.60 L524.9 286.14 L525.7 286.20 L526.5 286.73 L527.3 287.38 L528.1 287.70 L528.9 287.48 L529.8 286.86 L530.6 286.28 L531.4 286.11 L532.2 286.48 L533.0 287.14" style="stroke-width:1.0"/>
<line x1="503.0" y1="289.50" x2="533.0" y2="289.50" style="stroke-width:1.1"/>
<circle cx="507.0" cy="293.60" r="0.45" style="fill:#222;stroke:none"/>
<circle cx="514.0" cy="293.60" r="0.45" style="fill:#222;stroke:none"/>
<circle cx="521.0" cy="293.60" r="0.45" style="fill:#222;stroke:none"/>
<circle cx="528.0" cy="293.60" r="0.45" style="fill:#222;stroke:none"/>
<line x1="503.0" y1="299.30" x2="533.0" y2="299.30" style="stroke-width:1.0"/>
<circle cx="508.5" cy="301.60" r="0.45" style="fill:#222;stroke:none"/>
<circle cx="515.5" cy="301.60" r="0.45" style="fill:#222;stroke:none"/>
<circle cx="522.5" cy="301.60" r="0.45" style="fill:#222;stroke:none"/>
<circle cx="529.5" cy="301.60" r="0.45" style="fill:#222;stroke:none"/>
<path d="M504.9 307.40 l1.1 -3.2 l1.1 3.2 M511.9 307.40 l1.1 -3.2 l1.1 3.2 M518.9 307.40 l1.1 -3.2 l1.1 3.2 M525.9 307.40 l1.1 -3.2 l1.1 3.2" style="stroke-width:0.8"/>
<line x1="503.0" y1="309.30" x2="533.0" y2="309.30" style="stroke-width:1.0"/>
<circle cx="507.0" cy="315.70" r="0.45" style="fill:#222;stroke:none"/>
<circle cx="514.0" cy="315.70" r="0.45" style="fill:#222;stroke:none"/>
<circle cx="521.0" cy="315.70" r="0.45" style="fill:#222;stroke:none"/>
<circle cx="528.0" cy="315.70" r="0.45" style="fill:#222;stroke:none"/>
<line x1="503.0" y1="321.60" x2="533.0" y2="321.60" style="stroke-width:0.9"/>
<line x1="503.0" y1="326.40" x2="533.0" y2="326.40" style="stroke-width:0.9"/>
<line x1="503.0" y1="331.20" x2="533.0" y2="331.20" style="stroke-width:0.9"/>
<path d="M505.0 321.60 V326.40 M513.0 321.60 V326.40 M521.0 321.60 V326.40 M529.0 321.60 V326.40 M509.0 326.40 V331.20 M517.0 326.40 V331.20 M525.0 326.40 V331.20" style="stroke-width:0.9"/>
<path d="M503.0 331.44 L503.8 331.93 L504.6 331.93 L505.4 331.43 L506.2 330.78 L507.1 330.41 L507.9 330.58 L508.7 331.17 L509.5 331.78 L510.3 332.00 L511.1 331.67 L511.9 331.03 L512.7 330.50 L513.5 330.45 L514.4 330.90 L515.2 331.56 L516.0 331.97 L516.8 331.86 L517.6 331.30 L518.4 330.67 L519.2 330.40 L520.0 330.67 L520.8 331.30 L521.6 331.86 L522.5 331.97 L523.3 331.56 L524.1 330.90 L524.9 330.44 L525.7 330.50 L526.5 331.03 L527.3 331.68 L528.1 332.00 L528.9 331.78 L529.8 331.16 L530.6 330.58 L531.4 330.41 L532.2 330.78 L533.0 331.44" style="stroke-width:1.1"/>
<line x1="503.0" y1="334.00" x2="533.0" y2="334.00" style="stroke-width:1.0"/>
<line x1="503.0" y1="340.00" x2="533.0" y2="340.00" style="stroke-width:1.0"/>
<line x1="503.0" y1="346.40" x2="533.0" y2="346.40" style="stroke-width:1.0"/>
<line x1="503.0" y1="352.30" x2="533.0" y2="352.30" style="stroke-width:1.0"/>
<line x1="503.0" y1="358.40" x2="533.0" y2="358.40" style="stroke-width:1.0"/>
<line x1="503.0" y1="364.00" x2="533.0" y2="364.00" style="stroke-width:1.0"/>
<line x1="503.0" y1="369.00" x2="533.0" y2="369.00" style="stroke-width:1.0"/>
<path d="M501.0 340.00 L504.6 334.00 M506.2 340.00 L509.8 334.00 M511.4 340.00 L515.0 334.00 M516.6 340.00 L520.2 334.00 M521.8 340.00 L525.4 334.00 M527.0 340.00 L530.6 334.00 M532.2 340.00 L535.8 334.00 M503.6 346.40 L507.2 340.00 M508.8 346.40 L512.4 340.00 M514.0 346.40 L517.6 340.00 M519.2 346.40 L522.8 340.00 M524.4 346.40 L528.0 340.00 M529.6 346.40 L533.2 340.00 M534.8 346.40 L538.4 340.00 M501.0 352.30 L504.6 346.40 M506.2 352.30 L509.8 346.40 M511.4 352.30 L515.0 346.40 M516.6 352.30 L520.2 346.40 M521.8 352.30 L525.4 346.40 M527.0 352.30 L530.6 346.40 M532.2 352.30 L535.8 346.40 M503.6 358.40 L507.2 352.30 M508.8 358.40 L512.4 352.30 M514.0 358.40 L517.6 352.30 M519.2 358.40 L522.8 352.30 M524.4 358.40 L528.0 352.30 M529.6 358.40 L533.2 352.30 M534.8 358.40 L538.4 352.30 M501.0 364.00 L504.6 358.40 M506.2 364.00 L509.8 358.40 M511.4 364.00 L515.0 358.40 M516.6 364.00 L520.2 358.40 M521.8 364.00 L525.4 358.40 M527.0 364.00 L530.6 358.40 M532.2 364.00 L535.8 358.40 M503.6 369.00 L507.2 364.00 M508.8 369.00 L512.4 364.00 M514.0 369.00 L517.6 364.00 M519.2 369.00 L522.8 364.00 M524.4 369.00 L528.0 364.00 M529.6 369.00 L533.2 364.00 M534.8 369.00 L538.4 364.00" style="stroke-width:1.15"/>
<path d="M503.0 372.94 L503.8 373.43 L504.6 373.43 L505.4 372.93 L506.2 372.28 L507.1 371.91 L507.9 372.08 L508.7 372.67 L509.5 373.28 L510.3 373.50 L511.1 373.17 L511.9 372.53 L512.7 372.00 L513.5 371.95 L514.4 372.40 L515.2 373.06 L516.0 373.47 L516.8 373.36 L517.6 372.80 L518.4 372.17 L519.2 371.90 L520.0 372.17 L520.8 372.80 L521.6 373.36 L522.5 373.47 L523.3 373.06 L524.1 372.40 L524.9 371.94 L525.7 372.00 L526.5 372.53 L527.3 373.18 L528.1 373.50 L528.9 373.28 L529.8 372.66 L530.6 372.08 L531.4 371.91 L532.2 372.28 L533.0 372.94" style="stroke-width:1.0"/>
<line x1="503.0" y1="370.40" x2="533.0" y2="370.40" style="stroke-width:0.8"/>
<line x1="503.0" y1="372.70" x2="533.0" y2="372.70" style="stroke-width:0.9"/>
<line x1="503.0" y1="376.20" x2="533.0" y2="376.20" style="stroke-width:0.9"/>
<line x1="503.0" y1="381.00" x2="533.0" y2="381.00" style="stroke-width:0.9"/>
<line x1="503.0" y1="385.70" x2="533.0" y2="385.70" style="stroke-width:0.9"/>
<line x1="503.0" y1="390.40" x2="533.0" y2="390.40" style="stroke-width:0.9"/>
<line x1="503.0" y1="395.00" x2="533.0" y2="395.00" style="stroke-width:0.9"/>
<line x1="503.0" y1="399.60" x2="533.0" y2="399.60" style="stroke-width:0.9"/>
<path d="M505.0 372.70 V376.20 M512.0 372.70 V376.20 M519.0 372.70 V376.20 M526.0 372.70 V376.20 M508.5 376.20 V381.00 M515.5 376.20 V381.00 M522.5 376.20 V381.00 M529.5 376.20 V381.00 M505.0 381.00 V385.70 M512.0 381.00 V385.70 M519.0 381.00 V385.70 M526.0 381.00 V385.70 M508.5 385.70 V390.40 M515.5 385.70 V390.40 M522.5 385.70 V390.40 M529.5 385.70 V390.40 M505.0 390.40 V395.00 M512.0 390.40 V395.00 M519.0 390.40 V395.00 M526.0 390.40 V395.00 M508.5 395.00 V399.60 M515.5 395.00 V399.60 M522.5 395.00 V399.60 M529.5 395.00 V399.60" style="stroke-width:0.9"/>
<line x1="503.0" y1="399.60" x2="533.0" y2="399.60" style="stroke-width:1.2"/>
<line x1="503.0" y1="399.60" x2="533.0" y2="399.60" style="stroke-width:0.9"/>
<line x1="503.0" y1="404.60" x2="533.0" y2="404.60" style="stroke-width:0.9"/>
<line x1="503.0" y1="409.20" x2="533.0" y2="409.20" style="stroke-width:0.9"/>
<line x1="503.0" y1="414.00" x2="533.0" y2="414.00" style="stroke-width:0.9"/>
<path d="M508.5 399.60 V404.60 M515.5 399.60 V404.60 M522.5 399.60 V404.60 M529.5 399.60 V404.60 M505.0 404.60 V409.20 M512.0 404.60 V409.20 M519.0 404.60 V409.20 M526.0 404.60 V409.20 M508.5 409.20 V414.00 M515.5 409.20 V414.00 M522.5 409.20 V414.00 M529.5 409.20 V414.00" style="stroke-width:0.9"/>
<path d="M507.2 400.50 V403.00 M514.2 400.50 V403.00 M521.2 400.50 V403.00 M528.2 400.50 V403.00" style="stroke-width:0.6"/>
<ellipse cx="505.2" cy="416.20" rx="1.29" ry="1.15" style="stroke-width:0.75"/>
<ellipse cx="508.8" cy="416.20" rx="1.45" ry="1.15" style="stroke-width:0.75"/>
<ellipse cx="512.4" cy="416.20" rx="1.58" ry="1.15" style="stroke-width:0.75"/>
<ellipse cx="516.0" cy="416.20" rx="1.43" ry="1.15" style="stroke-width:0.75"/>
<ellipse cx="519.6" cy="416.20" rx="1.36" ry="1.15" style="stroke-width:0.75"/>
<ellipse cx="523.2" cy="416.20" rx="1.59" ry="1.15" style="stroke-width:0.75"/>
<ellipse cx="526.8" cy="416.20" rx="1.22" ry="1.15" style="stroke-width:0.75"/>
<ellipse cx="530.4" cy="416.20" rx="1.54" ry="1.15" style="stroke-width:0.75"/>
<ellipse cx="506.8" cy="419.40" rx="1.32" ry="1.15" style="stroke-width:0.75"/>
<ellipse cx="510.4" cy="419.40" rx="1.26" ry="1.15" style="stroke-width:0.75"/>
<ellipse cx="514.0" cy="419.40" rx="1.25" ry="1.15" style="stroke-width:0.75"/>
<ellipse cx="517.6" cy="419.40" rx="1.32" ry="1.15" style="stroke-width:0.75"/>
<ellipse cx="521.2" cy="419.40" rx="1.53" ry="1.15" style="stroke-width:0.75"/>
<ellipse cx="524.8" cy="419.40" rx="1.27" ry="1.15" style="stroke-width:0.75"/>
<ellipse cx="528.4" cy="419.40" rx="1.43" ry="1.15" style="stroke-width:0.75"/>
<path d="M503.0 421.64 L503.8 422.13 L504.6 422.13 L505.4 421.63 L506.2 420.98 L507.1 420.61 L507.9 420.78 L508.7 421.37 L509.5 421.98 L510.3 422.20 L511.1 421.87 L511.9 421.23 L512.7 420.70 L513.5 420.65 L514.4 421.10 L515.2 421.76 L516.0 422.17 L516.8 422.06 L517.6 421.50 L518.4 420.87 L519.2 420.60 L520.0 420.87 L520.8 421.50 L521.6 422.06 L522.5 422.17 L523.3 421.76 L524.1 421.10 L524.9 420.64 L525.7 420.70 L526.5 421.23 L527.3 421.88 L528.1 422.20 L528.9 421.98 L529.8 421.36 L530.6 420.78 L531.4 420.61 L532.2 420.98 L533.0 421.64" style="stroke-width:1.0"/>
<line x1="503.0" y1="424.60" x2="533.0" y2="424.60" style="stroke-width:0.9"/>
<path d="M505.5 425.50 V432.50 M511.0 425.50 V432.50 M516.5 425.50 V432.50 M522.0 425.50 V432.50 M527.5 425.50 V432.50" style="stroke-width:0.8"/>
<line x1="503.0" y1="429.40" x2="533.0" y2="429.40" style="stroke-width:0.5;stroke:#777"/>
<path d="M503.0 434.54 L503.8 435.03 L504.6 435.03 L505.4 434.53 L506.2 433.88 L507.1 433.51 L507.9 433.68 L508.7 434.27 L509.5 434.88 L510.3 435.10 L511.1 434.77 L511.9 434.13 L512.7 433.60 L513.5 433.55 L514.4 434.00 L515.2 434.66 L516.0 435.07 L516.8 434.96 L517.6 434.40 L518.4 433.77 L519.2 433.50 L520.0 433.77 L520.8 434.40 L521.6 434.96 L522.5 435.07 L523.3 434.66 L524.1 434.00 L524.9 433.54 L525.7 433.60 L526.5 434.13 L527.3 434.78 L528.1 435.10 L528.9 434.88 L529.8 434.26 L530.6 433.68 L531.4 433.51 L532.2 433.88 L533.0 434.54" style="stroke-width:1.0"/>
<path d="M504.5 437.40 h3.4 M510.1 437.40 h3.4 M515.7 437.40 h3.4 M521.3 437.40 h3.4 M526.9 437.40 h3.4" style="stroke-width:0.85"/>
<line x1="503.0" y1="440.60" x2="533.0" y2="440.60" style="stroke-width:1.0"/>
<line x1="503.0" y1="440.60" x2="533.0" y2="440.60" style="stroke-width:0.9"/>
<line x1="503.0" y1="445.00" x2="533.0" y2="445.00" style="stroke-width:0.9"/>
<line x1="503.0" y1="449.10" x2="533.0" y2="449.10" style="stroke-width:0.9"/>
<path d="M505.0 440.60 V445.00 M512.0 440.60 V445.00 M519.0 440.60 V445.00 M526.0 440.60 V445.00 M508.5 445.00 V449.10 M515.5 445.00 V449.10 M522.5 445.00 V449.10 M529.5 445.00 V449.10" style="stroke-width:0.9"/>
<path d="M503.0 449.34 L503.8 449.83 L504.6 449.83 L505.4 449.33 L506.2 448.68 L507.1 448.31 L507.9 448.48 L508.7 449.07 L509.5 449.68 L510.3 449.90 L511.1 449.57 L511.9 448.93 L512.7 448.40 L513.5 448.35 L514.4 448.80 L515.2 449.46 L516.0 449.87 L516.8 449.76 L517.6 449.20 L518.4 448.57 L519.2 448.30 L520.0 448.57 L520.8 449.20 L521.6 449.76 L522.5 449.87 L523.3 449.46 L524.1 448.80 L524.9 448.34 L525.7 448.40 L526.5 448.93 L527.3 449.58 L528.1 449.90 L528.9 449.68 L529.8 449.06 L530.6 448.48 L531.4 448.31 L532.2 448.68 L533.0 449.34" style="stroke-width:1.0"/>
<path d="M504.0 451.40 h3.4 M509.6 451.40 h3.4 M515.2 451.40 h3.4 M520.8 451.40 h3.4 M526.4 451.40 h3.4" style="stroke-width:0.85"/>
<path d="M506.8 453.60 h3.4 M512.4 453.60 h3.4 M518.0 453.60 h3.4 M523.6 453.60 h3.4 M529.2 453.60 h2.8" style="stroke-width:0.85"/>
<path d="M504.0 455.70 h3.4 M509.6 455.70 h3.4 M515.2 455.70 h3.4 M520.8 455.70 h3.4 M526.4 455.70 h3.4" style="stroke-width:0.85"/>
<path d="M503.0 457.74 L503.8 458.23 L504.6 458.23 L505.4 457.73 L506.2 457.08 L507.1 456.71 L507.9 456.88 L508.7 457.47 L509.5 458.08 L510.3 458.30 L511.1 457.97 L511.9 457.33 L512.7 456.80 L513.5 456.75 L514.4 457.20 L515.2 457.86 L516.0 458.27 L516.8 458.16 L517.6 457.60 L518.4 456.97 L519.2 456.70 L520.0 456.97 L520.8 457.60 L521.6 458.16 L522.5 458.27 L523.3 457.86 L524.1 457.20 L524.9 456.74 L525.7 456.80 L526.5 457.33 L527.3 457.98 L528.1 458.30 L528.9 458.08 L529.8 457.46 L530.6 456.88 L531.4 456.71 L532.2 457.08 L533.0 457.74" style="stroke-width:1.0"/>
<line x1="503.0" y1="457.50" x2="533.0" y2="457.50" style="stroke-width:0.9"/>
<line x1="503.0" y1="462.60" x2="533.0" y2="462.60" style="stroke-width:0.9"/>
<line x1="503.0" y1="467.80" x2="533.0" y2="467.80" style="stroke-width:0.9"/>
<line x1="503.0" y1="473.00" x2="533.0" y2="473.00" style="stroke-width:0.9"/>
<line x1="503.0" y1="478.20" x2="533.0" y2="478.20" style="stroke-width:0.9"/>
<line x1="503.0" y1="483.40" x2="533.0" y2="483.40" style="stroke-width:0.9"/>
<path d="M505.0 457.50 V462.60 M512.0 457.50 V462.60 M519.0 457.50 V462.60 M526.0 457.50 V462.60 M508.5 462.60 V467.80 M515.5 462.60 V467.80 M522.5 462.60 V467.80 M529.5 462.60 V467.80 M505.0 467.80 V473.00 M512.0 467.80 V473.00 M519.0 467.80 V473.00 M526.0 467.80 V473.00 M508.5 473.00 V478.20 M515.5 473.00 V478.20 M522.5 473.00 V478.20 M529.5 473.00 V478.20 M505.0 478.20 V483.40 M512.0 478.20 V483.40 M519.0 478.20 V483.40 M526.0 478.20 V483.40" style="stroke-width:0.9"/>
<path d="M503.0 483.81 L503.8 484.28 L504.6 484.10 L505.4 483.45 L506.2 482.94 L507.1 483.06 L507.9 483.69 L508.7 484.24 L509.5 484.18 L510.3 483.57 L511.1 482.99 L511.9 482.99 L512.7 483.57 L513.5 484.18 L514.4 484.24 L515.2 483.69 L516.0 483.05 L516.8 482.94 L517.6 483.45 L518.4 484.11 L519.2 484.28 L520.0 483.80 L520.8 483.14 L521.6 482.91 L522.5 483.34 L523.3 484.02 L524.1 484.30 L524.9 483.91 L525.7 483.23 L526.5 482.90 L527.3 483.23 L528.1 483.92 L528.9 484.30 L529.8 484.01 L530.6 483.34 L531.4 482.91 L532.2 483.14 L533.0 483.81" style="stroke-width:1.5"/>
<ellipse cx="505.2" cy="486.60" rx="1.46" ry="1.44" style="stroke-width:0.75"/>
<ellipse cx="508.8" cy="486.60" rx="1.35" ry="1.44" style="stroke-width:0.75"/>
<ellipse cx="512.4" cy="486.60" rx="1.42" ry="1.44" style="stroke-width:0.75"/>
<ellipse cx="516.0" cy="486.60" rx="1.23" ry="1.44" style="stroke-width:0.75"/>
<ellipse cx="519.6" cy="486.60" rx="1.22" ry="1.44" style="stroke-width:0.75"/>
<ellipse cx="523.2" cy="486.60" rx="1.28" ry="1.44" style="stroke-width:0.75"/>
<ellipse cx="526.8" cy="486.60" rx="1.47" ry="1.44" style="stroke-width:0.75"/>
<ellipse cx="530.4" cy="486.60" rx="1.37" ry="1.44" style="stroke-width:0.75"/>
<path d="M503.0 489.54 L503.8 490.03 L504.6 490.03 L505.4 489.53 L506.2 488.88 L507.1 488.51 L507.9 488.68 L508.7 489.27 L509.5 489.88 L510.3 490.10 L511.1 489.77 L511.9 489.13 L512.7 488.60 L513.5 488.55 L514.4 489.00 L515.2 489.66 L516.0 490.07 L516.8 489.96 L517.6 489.40 L518.4 488.77 L519.2 488.50 L520.0 488.77 L520.8 489.40 L521.6 489.96 L522.5 490.07 L523.3 489.66 L524.1 489.00 L524.9 488.54 L525.7 488.60 L526.5 489.13 L527.3 489.78 L528.1 490.10 L528.9 489.88 L529.8 489.26 L530.6 488.68 L531.4 488.51 L532.2 488.88 L533.0 489.54" style="stroke-width:1.0"/>
<line x1="503.0" y1="489.30" x2="533.0" y2="489.30" style="stroke-width:1.0"/>
<line x1="503.0" y1="495.60" x2="533.0" y2="495.60" style="stroke-width:1.0"/>
<line x1="503.0" y1="502.00" x2="533.0" y2="502.00" style="stroke-width:1.0"/>
<path d="M501.0 495.60 L504.6 489.30 M506.2 495.60 L509.8 489.30 M511.4 495.60 L515.0 489.30 M516.6 495.60 L520.2 489.30 M521.8 495.60 L525.4 489.30 M527.0 495.60 L530.6 489.30 M532.2 495.60 L535.8 489.30 M503.6 502.00 L507.2 495.60 M508.8 502.00 L512.4 495.60 M514.0 502.00 L517.6 495.60 M519.2 502.00 L522.8 495.60 M524.4 502.00 L528.0 495.60 M529.6 502.00 L533.2 495.60 M534.8 502.00 L538.4 495.60" style="stroke-width:1.15"/>
<line x1="503.0" y1="503.20" x2="533.0" y2="503.20" style="stroke-width:1.0"/>
<line x1="503.0" y1="503.20" x2="533.0" y2="503.20" style="stroke-width:0.9"/>
<line x1="503.0" y1="507.20" x2="533.0" y2="507.20" style="stroke-width:0.9"/>
<line x1="503.0" y1="511.00" x2="533.0" y2="511.00" style="stroke-width:0.9"/>
<path d="M505.0 503.20 V507.20 M512.0 503.20 V507.20 M519.0 503.20 V507.20 M526.0 503.20 V507.20 M508.5 507.20 V511.00 M515.5 507.20 V511.00 M522.5 507.20 V511.00 M529.5 507.20 V511.00" style="stroke-width:0.9"/>
<path d="M504.0 513.20 h3.4 M509.6 513.20 h3.4 M515.2 513.20 h3.4 M520.8 513.20 h3.4 M526.4 513.20 h3.4" style="stroke-width:0.85"/>
<path d="M506.8 515.80 h3.4 M512.4 515.80 h3.4 M518.0 515.80 h3.4 M523.6 515.80 h3.4 M529.2 515.80 h2.8" style="stroke-width:0.85"/>
<line x1="503.0" y1="518.20" x2="533.0" y2="518.20" style="stroke-width:0.9"/>
<line x1="503.0" y1="518.20" x2="533.0" y2="518.20" style="stroke-width:0.9"/>
<line x1="503.0" y1="523.00" x2="533.0" y2="523.00" style="stroke-width:0.9"/>
<line x1="503.0" y1="528.30" x2="533.0" y2="528.30" style="stroke-width:0.9"/>
<path d="M508.5 518.20 V523.00 M515.5 518.20 V523.00 M522.5 518.20 V523.00 M529.5 518.20 V523.00 M505.0 523.00 V528.30 M512.0 523.00 V528.30 M519.0 523.00 V528.30 M526.0 523.00 V528.30" style="stroke-width:0.9"/>
<path d="M504.6 530.20 h3.0 M508.8 530.20 h3.0 M513.0 530.20 h3.0 M517.2 530.20 h3.0 M521.4 530.20 h3.0 M525.6 530.20 h3.0 M529.8 530.20 h2.2" style="stroke-width:1.0"/>
<line x1="503.0" y1="534.80" x2="533.0" y2="534.80" style="stroke-width:1.0"/>
<line x1="503.0" y1="541.40" x2="533.0" y2="541.40" style="stroke-width:1.0"/>
<line x1="503.0" y1="548.60" x2="533.0" y2="548.60" style="stroke-width:1.0"/>
<line x1="503.0" y1="555.20" x2="533.0" y2="555.20" style="stroke-width:1.0"/>
<line x1="503.0" y1="561.80" x2="533.0" y2="561.80" style="stroke-width:1.0"/>
<line x1="503.0" y1="568.60" x2="533.0" y2="568.60" style="stroke-width:1.0"/>
<path d="M501.0 541.40 L505.2 534.80 M506.4 541.40 L510.6 534.80 M511.8 541.40 L516.0 534.80 M517.2 541.40 L521.4 534.80 M522.6 541.40 L526.8 534.80 M528.0 541.40 L532.2 534.80 M533.4 541.40 L537.6 534.80 M503.7 548.60 L507.9 541.40 M509.1 548.60 L513.3 541.40 M514.5 548.60 L518.7 541.40 M519.9 548.60 L524.1 541.40 M525.3 548.60 L529.5 541.40 M530.7 548.60 L534.9 541.40 M501.0 555.20 L505.2 548.60 M506.4 555.20 L510.6 548.60 M511.8 555.20 L516.0 548.60 M517.2 555.20 L521.4 548.60 M522.6 555.20 L526.8 548.60 M528.0 555.20 L532.2 548.60 M533.4 555.20 L537.6 548.60 M503.7 561.80 L507.9 555.20 M509.1 561.80 L513.3 555.20 M514.5 561.80 L518.7 555.20 M519.9 561.80 L524.1 555.20 M525.3 561.80 L529.5 555.20 M530.7 561.80 L534.9 555.20 M501.0 568.60 L505.2 561.80 M506.4 568.60 L510.6 561.80 M511.8 568.60 L516.0 561.80 M517.2 568.60 L521.4 561.80 M522.6 568.60 L526.8 561.80 M528.0 568.60 L532.2 561.80 M533.4 568.60 L537.6 561.80" style="stroke-width:1.1"/>
</g>
<text x="58.50" y="56.50" font-size="11.5" font-weight="bold" font-style="italic" letter-spacing="-0.3750" >458</text>
<text x="104.00" y="56.50" font-size="11.5" font-weight="bold" font-style="italic" word-spacing="0.016" >Katz et al.</text>
<text x="58.50" y="611.70" font-size="9.3" class="s" font-weight="bold" word-spacing="-0.406" >Figure 28.6. Burial history diagram assuming maximum stratigraphic thicknesses present in the Central Basin platform, with</text>
<text x="58.50" y="623.00" font-size="9.3" class="s" font-weight="bold" word-spacing="-0.375" >all unconformities represented by sedimentary hiatuses. The position of the oil window is based on a constant geothermal</text>
<text x="58.50" y="634.10" font-size="9.3" class="s" font-weight="bold" word-spacing="-0.298" >gradient of 1.54°F/100 ft. Burial of the source rock was mostly over by the end of the Triassic. Oil generation in the Simpson</text>
<text x="58.50" y="645.00" font-size="9.3" class="s" font-weight="bold" word-spacing="-0.263" >source rock started in Late Permian (255 Ma), peaked in Late Triassic (210 Ma), and was over by middle Tertiary (30 Ma) time.</text>
<text x="58.60" y="689.70" font-size="13.3" font-weight="bold" word-spacing="0.150" >Petroleum System Timing</text>
<text x="71.60" y="711.80" font-size="11.4" letter-spacing="0.2422" word-spacing="0.997" >A Lopatin-type approach was used to estimate the</text>
<text x="58.60" y="724.23" font-size="11.4" letter-spacing="0.3536" word-spacing="1.355" >present level of thermal maturity and the timing of</text>
<text x="58.60" y="736.66" font-size="11.4" letter-spacing="0.4125" word-spacing="2.376" >hydrocarbon generation and migration. The burial</text>
<text x="58.60" y="749.09" font-size="11.4" letter-spacing="0.1298" word-spacing="0.469" >history diagram and the position of the oil window are</text>
<text x="58.60" y="761.52" font-size="11.4" letter-spacing="0.2372" word-spacing="0.955" >shown in Figure 28.6. The model assumes maximum</text>
<text x="58.60" y="773.95" font-size="11.4" letter-spacing="0.0672" word-spacing="0.329" >stratigraphic thickness for the region and nearly contin-</text>
<text x="58.60" y="786.38" font-size="11.4" letter-spacing="0.0669" word-spacing="0.435" >uous deposition, with unconformities being represented</text>
<text x="58.60" y="798.81" font-size="11.4" letter-spacing="0.3245" word-spacing="1.624" >as periods of nondeposition. A constant geothermal</text>
<text x="58.60" y="811.24" font-size="11.4" word-spacing="-0.600" letter-spacing="-0.0347" >gradient of 1.54°F/100 ft was also assumed (Hills, 1984).</text>
<text x="71.60" y="823.67" font-size="11.4" letter-spacing="0.4046" word-spacing="1.901" >These simplifying assumptions tend to result in</text>
<text x="58.60" y="836.10" font-size="11.4" letter-spacing="0.0493" word-spacing="0.212" >underestimation of the level of thermal maturity. This is</text>
<text x="344.60" y="689.00" font-size="11.4" letter-spacing="0.3295" word-spacing="1.388" >particularly true in light of the structural and strati-</text>
<text x="344.60" y="701.40" font-size="11.4" letter-spacing="0.0106" word-spacing="0.042" >graphic history of the region. There is clear evidence that</text>
<text x="344.60" y="713.80" font-size="11.4" letter-spacing="0.0547" word-spacing="0.263" >erosion occurred following deposition of both the Ellen-</text>
<text x="344.60" y="726.20" font-size="11.4" letter-spacing="0.0651" word-spacing="0.339" >burger Formation and Simpson Group. Furthermore, the</text>
<text x="344.60" y="738.60" font-size="11.4" letter-spacing="0.4575" word-spacing="2.580" >region underwent compression from the southeast</text>
<text x="344.60" y="751.00" font-size="11.4" letter-spacing="0.1116" word-spacing="0.698" >during the Late Carboniferous–Permian. This compres-</text>
<text x="344.60" y="763.40" font-size="11.4" letter-spacing="0.1307" word-spacing="0.641" >sional episode resulted in uplift and significant erosion</text>
<text x="344.60" y="775.80" font-size="11.4" letter-spacing="0.4497" word-spacing="1.688" >across parts of the Central Basin platform and the</text>
<text x="344.60" y="788.20" font-size="11.4" letter-spacing="0.0208" word-spacing="0.091" >Delaware basin. This has resulted in local erosional trun-</text>
<text x="344.60" y="800.60" font-size="11.4" letter-spacing="0.1535" word-spacing="0.554" >cation down to the Ellenburger or, in some cases, even</text>
<text x="344.60" y="813.00" font-size="11.4" word-spacing="-0.600" letter-spacing="-0.0641" >the Precambrian (Ijirigho, 1989).</text>
<text x="357.60" y="825.40" font-size="11.4" word-spacing="-0.153" >An analysis of Figure 28.6 indicates that the Simpson–</text>
<text x="344.60" y="837.80" font-size="11.4" letter-spacing="0.1132" word-spacing="0.515" >Ellenburger petroleum system was active for about 470</text>
<text x="79.20" y="137.20" font-size="11.7" text-anchor="middle" style="stroke-width:0">500</text>
<text x="154.50" y="137.20" font-size="11.7" text-anchor="middle" style="stroke-width:0">400</text>
<text x="234.30" y="137.20" font-size="11.7" text-anchor="middle" style="stroke-width:0">300</text>
<text x="309.50" y="137.20" font-size="11.7" text-anchor="middle" style="stroke-width:0">200</text>
<text x="387.50" y="137.20" font-size="11.7" text-anchor="middle" style="stroke-width:0">100</text>
<text x="407.00" y="138.20" font-size="9.2" class="s" font-weight="bold" letter-spacing="0.2344" >Ma</text>
<text x="115.00" y="163.80" font-size="15.1" letter-spacing="0.0141" >Paleozoic</text>
<text x="319.30" y="163.80" font-size="15.1" letter-spacing="-0.0696" >Mesozoic</text>
<text x="418.80" y="163.20" font-size="10.6" letter-spacing="-0.2594" >Cenozoic</text>
<text x="0.00" y="0.00" font-size="20.5" class="s" font-weight="bold" text-anchor="middle" style="stroke-width:0" transform="translate(98.6 198.5) scale(1.08 1)">O</text>
<text x="0.00" y="0.00" font-size="20.5" class="s" font-weight="bold" text-anchor="middle" style="stroke-width:0" transform="translate(136.3 198.5) scale(0.8 1)">S</text>
<text x="0.00" y="0.00" font-size="20.5" class="s" font-weight="bold" text-anchor="middle" style="stroke-width:0" transform="translate(164.2 198.5) scale(0.97 1)">D</text>
<text x="0.00" y="0.00" font-size="20.5" class="s" font-weight="bold" text-anchor="middle" style="stroke-width:0" transform="translate(199.3 198.5) scale(1.0 1)">M</text>
<text x="0.00" y="0.00" font-size="20.5" class="s" font-weight="bold" text-anchor="middle" style="stroke-width:0" transform="translate(323.3 198.5) scale(0.8 1)">J</text>
<text x="0.00" y="0.00" font-size="20.5" class="s" font-weight="bold" text-anchor="middle" style="stroke-width:0" transform="translate(382.5 198.5) scale(0.8 1)">K</text>
<text x="0.00" y="0.00" font-size="20.5" class="s" font-weight="bold" text-anchor="middle" style="stroke-width:0" transform="translate(438.5 198.5) scale(0.78 1)">T</text>
<text x="0.00" y="0.00" font-size="20.5" class="s" font-weight="bold" style="stroke-width:0" transform="translate(260.3 198.5) scale(0.87 1)">P</text>
<text x="0.00" y="0.00" font-size="20.5" class="s" font-weight="bold" style="stroke-width:0" transform="translate(231.7 198.5) scale(0.87 1)">P</text>
<text x="333.40" y="88.70" font-size="8.7" class="s" font-weight="bold" letter-spacing="-0.2670" >Temporal</text>
<text x="329.30" y="97.50" font-size="8.7" class="s" font-weight="bold" word-spacing="-0.159" >Oil window</text>
<text x="308.20" y="106.50" font-size="8.7" class="s" font-weight="bold" word-spacing="-0.600" letter-spacing="-0.0200" >Simpson source rock</text>
<text x="255.00" y="115.60" font-size="8.4" class="s" font-weight="bold" word-spacing="1.062" >255 Ma</text>
<text x="422.70" y="115.60" font-size="8.4" class="s" font-weight="bold" word-spacing="1.319" >30 Ma</text>
<text x="0.00" y="0.00" font-size="16" word-spacing="-0.203" transform="translate(547.7 201.4) rotate(-90)">Source Rock</text>
<text x="0.00" y="0.00" font-size="16" word-spacing="-0.600" letter-spacing="-0.1730" transform="translate(566.2 201.4) rotate(-90)">Seal rock</text>
<text x="0.00" y="0.00" font-size="16" word-spacing="0.016" transform="translate(581.4 201.4) rotate(-90)">Reservoir Rock</text>
<text x="0.00" y="0.00" font-size="16" letter-spacing="-0.1024" transform="translate(601 201.4) rotate(-90)">Overburden</text>
<text x="215.00" y="494.40" font-size="12.4" word-spacing="-0.600" letter-spacing="-0.1719" style="stroke-width:0.1px">Top Oil</text>
<text x="215.40" y="505.90" font-size="12.4" letter-spacing="-0.5175" style="stroke-width:0.1px">Window</text>
<text x="311.00" y="536.70" font-size="12.4" word-spacing="-0.600" letter-spacing="-0.1045" style="stroke-width:0.1px">Base Oil</text>
<text x="311.70" y="549.20" font-size="12.4" letter-spacing="-0.5775" style="stroke-width:0.1px">Window</text>
<text x="215.70" y="533.30" font-size="9.2" class="s" font-weight="bold" style="stroke-width:0">R</text>
<text x="221.30" y="535.90" font-size="6.6" class="s" font-weight="bold" style="stroke-width:0">O</text>
<text x="231.70" y="533.30" font-size="8.8" class="s" font-weight="bold" style="stroke-width:0">0.7</text>
<text x="299.80" y="565.30" font-size="9.2" class="s" font-weight="bold" style="stroke-width:0">R</text>
<text x="305.40" y="567.90" font-size="6.6" class="s" font-weight="bold" style="stroke-width:0">O</text>
<text x="312.40" y="565.30" font-size="8.8" class="s" font-weight="bold" style="stroke-width:0">1.3</text>
<text x="297.70" y="586.00" font-size="8.6" class="s" font-weight="bold" word-spacing="1.831" >Critical Moment</text>
<text x="470.35" y="233.30" font-size="5.5" font-weight="bold" word-spacing="-0.600" letter-spacing="-0.5392" style="stroke-width:0.15px">Dockum Gp.</text>
<text x="478.85" y="238.80" font-size="5.5" font-weight="bold" letter-spacing="-0.3750" style="stroke-width:0.15px">200</text>
<text x="464.35" y="254.70" font-size="5.5" font-weight="bold" word-spacing="-0.600" letter-spacing="-0.8148" style="stroke-width:0.15px">Dewey Lake Fm. 20-50</text>
<text x="468.85" y="261.60" font-size="5.5" font-weight="bold" word-spacing="-0.600" letter-spacing="-0.8449" style="stroke-width:0.15px">Rustler Fm. 20-30</text>
<text x="471.85" y="276.60" font-size="5.5" font-weight="bold" word-spacing="-0.600" letter-spacing="-0.4993" style="stroke-width:0.15px">Salado Fm.</text>
<text x="478.85" y="281.80" font-size="5.5" font-weight="bold" letter-spacing="-0.3750" style="stroke-width:0.15px">250</text>
<text x="471.60" y="307.30" font-size="5.5" font-weight="bold" word-spacing="-0.600" letter-spacing="-0.4603" style="stroke-width:0.15px">Artesia Gp.</text>
<text x="478.85" y="312.70" font-size="5.5" font-weight="bold" letter-spacing="-0.3750" style="stroke-width:0.15px">500</text>
<text x="467.60" y="346.30" font-size="5.5" font-weight="bold" word-spacing="-0.600" letter-spacing="-0.4966" style="stroke-width:0.15px">San Andres Fm.</text>
<text x="474.60" y="351.70" font-size="5.5" font-weight="bold" letter-spacing="-0.3906" style="stroke-width:0.15px">100-320</text>
<text x="470.10" y="367.00" font-size="5.5" font-weight="bold" word-spacing="-0.600" letter-spacing="-0.6498" style="stroke-width:0.15px">Glorieta SS. 10</text>
<text x="468.60" y="386.60" font-size="5.5" font-weight="bold" word-spacing="-0.600" letter-spacing="-0.5315" style="stroke-width:0.15px">Clear Fork Gp.</text>
<text x="474.60" y="392.20" font-size="5.5" font-weight="bold" letter-spacing="-0.3906" style="stroke-width:0.15px">100-390</text>
<text x="468.60" y="405.60" font-size="5.5" font-weight="bold" word-spacing="-0.600" letter-spacing="-0.7440" style="stroke-width:0.15px">Wichita-Alb Gp.</text>
<text x="477.10" y="411.20" font-size="5.5" font-weight="bold" letter-spacing="-0.4609" style="stroke-width:0.15px">0-250</text>
<text x="471.35" y="431.40" font-size="5.5" font-weight="bold" word-spacing="-0.600" letter-spacing="-0.7372" style="stroke-width:0.15px">Strawn Ls. 70</text>
<text x="469.10" y="438.80" font-size="5.5" font-weight="bold" word-spacing="-0.600" letter-spacing="-0.8068" style="stroke-width:0.15px">Barnett Sh. 0-100</text>
<text x="464.60" y="445.60" font-size="5.5" font-weight="bold" word-spacing="-0.600" letter-spacing="-0.6392" style="stroke-width:0.15px">Mississippian Ls. 100</text>
<text x="468.60" y="454.10" font-size="5.5" font-weight="bold" word-spacing="-0.600" letter-spacing="-0.8719" style="stroke-width:0.15px">Woodford Fm. 50</text>
<text x="471.60" y="471.30" font-size="5.5" font-weight="bold" word-spacing="-0.600" letter-spacing="-0.9695" style="stroke-width:0.15px">Thirtyone Fm.</text>
<text x="480.35" y="475.70" font-size="5.5" font-weight="bold" letter-spacing="-1.2656" style="stroke-width:0.15px">50'</text>
<text x="467.60" y="487.80" font-size="5.5" font-weight="bold" word-spacing="-0.600" letter-spacing="-0.7844" style="stroke-width:0.15px">Wristen Fm. 50-60</text>
<text x="466.10" y="493.60" font-size="5.5" font-weight="bold" word-spacing="-0.600" letter-spacing="-0.8456" style="stroke-width:0.15px">Fusselman Dol. 50-75</text>
<text x="469.60" y="500.30" font-size="5.5" font-weight="bold" word-spacing="-0.600" letter-spacing="-0.8406" style="stroke-width:0.15px">Montoya Dol. 90</text>
<text x="472.60" y="517.40" font-size="5.5" font-weight="bold" word-spacing="-0.600" letter-spacing="-0.9666" style="stroke-width:0.15px">Simpson Gp.</text>
<text x="479.85" y="521.60" font-size="5.5" font-weight="bold" letter-spacing="-1.3750" style="stroke-width:0.15px">400</text>
<text x="470.60" y="552.40" font-size="5.5" font-weight="bold" word-spacing="-0.600" letter-spacing="-1.0297" style="stroke-width:0.15px">Ellenburger Fm.</text>
<text x="479.85" y="556.60" font-size="5.5" font-weight="bold" letter-spacing="-1.3750" style="stroke-width:0.15px">400</text>
<text x="455.50" y="417.90" font-size="5.2" font-weight="bold" word-spacing="-0.600" letter-spacing="-0.7454" style="stroke-width:0.15px">Cisco Ls. 0-500  Canyon Ls. 0-300</text>
</svg></body></html>
